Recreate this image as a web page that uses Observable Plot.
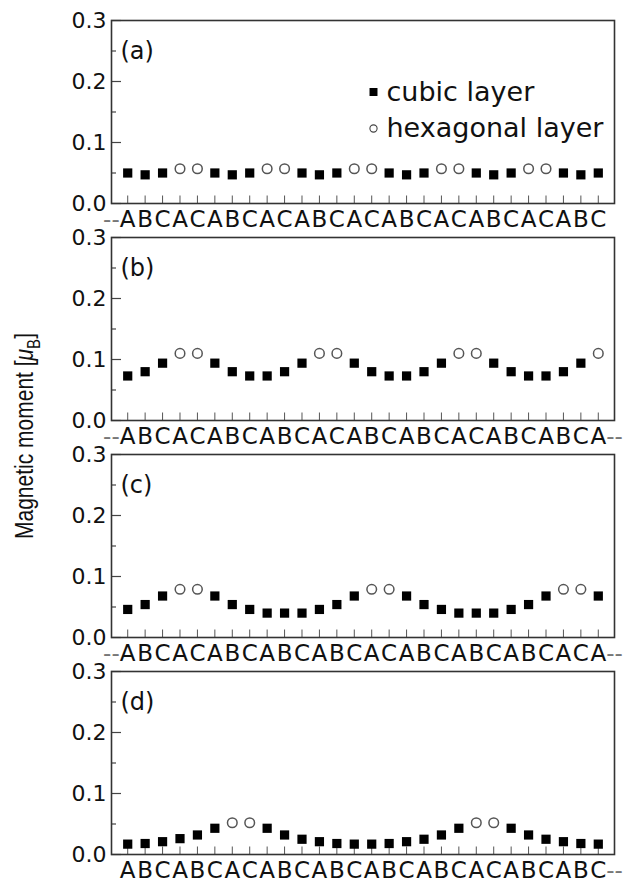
<!DOCTYPE html>
<html><head><meta charset="utf-8">
<script src="https://cdn.jsdelivr.net/npm/d3@7"></script>
<script src="https://cdn.jsdelivr.net/npm/@observablehq/plot@0.6"></script>
<style>
body{margin:0;background:#fff;}
#wrap{position:relative;width:634px;height:884px;}
#ylab{position:absolute;left:27px;top:436px;transform:translate(-50%,-50%) rotate(-90deg) scaleY(1.2);font-family:"Liberation Sans",Arial,sans-serif;font-size:21px;white-space:nowrap;color:#111;}
#ylab sub{font-size:15px;}
</style></head><body>
<div id="wrap"><div id="ylab">Magnetic moment [<i>μ</i><sub>B</sub>]</div></div>
<script>
// ---- data ----
const panelIds = ["a", "b", "c", "d"];
const panelLabels = ["(a)", "(b)", "(c)", "(d)"];
const prefixes = ["--", "--", "--", ""];
const suffixes = ["", "--", "--", "--"];

const layersA = "ABCACABCACABCACABCACABCACABC".split("");
const layersB = "ABCACABCABCACABCABCACABCABCA".split("");
const layersC = "ABCACABCABCABCACABCABCABCACA".split("");
const layersD = "ABCABCACABCABCABCABCACABCABC".split("");

// c = cubic layer, h = hexagonal layer
const typesA = "ccchhccchhccchhccchhccchhccc".split("");
const typesB = "ccchhcccccchhcccccchhcccccch".split("");
const typesC = "ccchhccccccccchhccccccccchhc".split("");
const typesD = "cccccchhcccccccccccchhcccccc".split("");

const valuesA = [0.050,0.047,0.050,0.057,0.057, 0.050,0.047,0.050,0.057,0.057, 0.050,0.047,0.050,0.057,0.057,
                 0.050,0.047,0.050,0.057,0.057, 0.050,0.047,0.050,0.057,0.057, 0.050,0.047,0.050];
const valuesB = [0.073,0.080,0.094,0.110,0.110,0.094,0.080,0.073,0.073,0.080,0.094,0.110,0.110,0.094,
                 0.080,0.073,0.073,0.080,0.094,0.110,0.110,0.094,0.080,0.073,0.073,0.080,0.094,0.110];
const valuesC = [0.046,0.054,0.068,0.079,0.079,0.068,0.054,0.046,0.040,0.040,0.040,0.046,0.054,0.068,
                 0.079,0.079,0.068,0.054,0.046,0.040,0.040,0.040,0.046,0.054,0.068,0.079,0.079,0.068];
const valuesD = [0.017,0.018,0.021,0.026,0.032,0.043,0.052,0.052,0.043,0.032,0.025,0.021,0.018,0.017,
                 0.017,0.018,0.021,0.025,0.032,0.043,0.052,0.052,0.043,0.032,0.025,0.021,0.018,0.017];

const majorTicks = [0, 0.1, 0.2, 0.3];
const minorTicks = [0.05, 0.15, 0.25];
const legendItems = ["cubic layer", "hexagonal layer"];

// ---- build tables ----
const layers = [layersA, layersB, layersC, layersD];
const types = [typesA, typesB, typesC, typesD];
const values = [valuesA, valuesB, valuesC, valuesD];
const points = [];
panelIds.forEach((p, k) => {
  layers[k].forEach((L, i) => points.push({panel: p, i, layer: L, type: types[k][i], value: values[k][i]}));
});
const cubic = points.filter(d => d.type === "c");
const hex = points.filter(d => d.type === "h");
const panelRows = panelIds.map((p, k) => ({panel: p, label: panelLabels[k], pre: prefixes[k], suf: suffixes[k], first: 0, last: layers[k].length - 1}));

// ---- layout ----
const W = 634, H = 884, mL = 111, mR = 20, mT = 20, mB = 29;
const pad = 0.155;
const bandH = (H - mT - mB) * (1 - pad) / (4 - pad);
const frameW = W - mL - mR;

const chart = Plot.plot({
  width: W, height: H,
  marginLeft: mL, marginRight: mR, marginTop: mT, marginBottom: mB,
  style: {fontFamily: "'DejaVu Sans', sans-serif", fontSize: "22px", color: "#111", background: "white"},
  x: {domain: [-0.93, 27.93], axis: null},
  y: {domain: [0, 0.3], axis: null},
  fy: {domain: panelIds, axis: null, paddingInner: pad, paddingOuter: 0},
  marks: [
    Plot.tickY(majorTicks, {y: d => d, stroke: "#444", strokeWidth: 1.2, insetRight: frameW - 10}),
    Plot.tickY(minorTicks, {y: d => d, stroke: "#444", strokeWidth: 1.2, insetRight: frameW - 5}),
    Plot.axisY(majorTicks, {tickSize: 0, tickPadding: 5, tickFormat: d3.format(".1f"), fontSize: 22, label: null, fill: "#111"}),
    Plot.tickX(points, {x: "i", fy: "panel", stroke: "#555", strokeWidth: 1, insetTop: bandH - 8}),
    Plot.text(points, {x: "i", fy: "panel", text: "layer", frameAnchor: "bottom", dy: 16, lineAnchor: "middle", fontSize: 23, fill: "#111"}),
    Plot.text(panelRows, {x: "first", fy: "panel", text: "pre", frameAnchor: "bottom", dy: 16, dx: -8, textAnchor: "end", lineAnchor: "middle", fontSize: 23, fill: "#777"}),
    Plot.text(panelRows, {x: "last", fy: "panel", text: "suf", frameAnchor: "bottom", dy: 16, dx: 8, textAnchor: "start", lineAnchor: "middle", fontSize: 23, fill: "#777"}),
    Plot.text(panelRows, {fy: "panel", text: "label", frameAnchor: "top-left", dx: 9, dy: 31, textAnchor: "start", lineAnchor: "middle", fontSize: 24, fill: "#111"}),
    Plot.dot(cubic, {x: "i", y: "value", fy: "panel", symbol: "square", r: 5.2, fill: "#000"}),
    Plot.dot(hex, {x: "i", y: "value", fy: "panel", r: 4.8, fill: "white", stroke: "#555", strokeWidth: 1.5}),
    // legend (panel a)
    Plot.dot([legendItems[0]], {fy: () => "a", frameAnchor: "top-left", dx: 262, dy: 71.5, symbol: "square", r: 4.5, fill: "#000"}),
    Plot.dot([legendItems[1]], {fy: () => "a", frameAnchor: "top-left", dx: 262, dy: 108, r: 3.6, fill: "white", stroke: "#444", strokeWidth: 1.1}),
    Plot.text([legendItems[0]], {fy: () => "a", text: d => d, frameAnchor: "top-left", dx: 275, dy: 71.5, textAnchor: "start", lineAnchor: "middle", fontSize: 27, fill: "#111"}),
    Plot.text([legendItems[1]], {fy: () => "a", text: d => d, frameAnchor: "top-left", dx: 275, dy: 108, textAnchor: "start", lineAnchor: "middle", fontSize: 27, fill: "#111"}),
    Plot.frame({stroke: "#333", strokeWidth: 1.6})
  ]
});
document.getElementById("wrap").prepend(chart);
</script>
</body></html>
